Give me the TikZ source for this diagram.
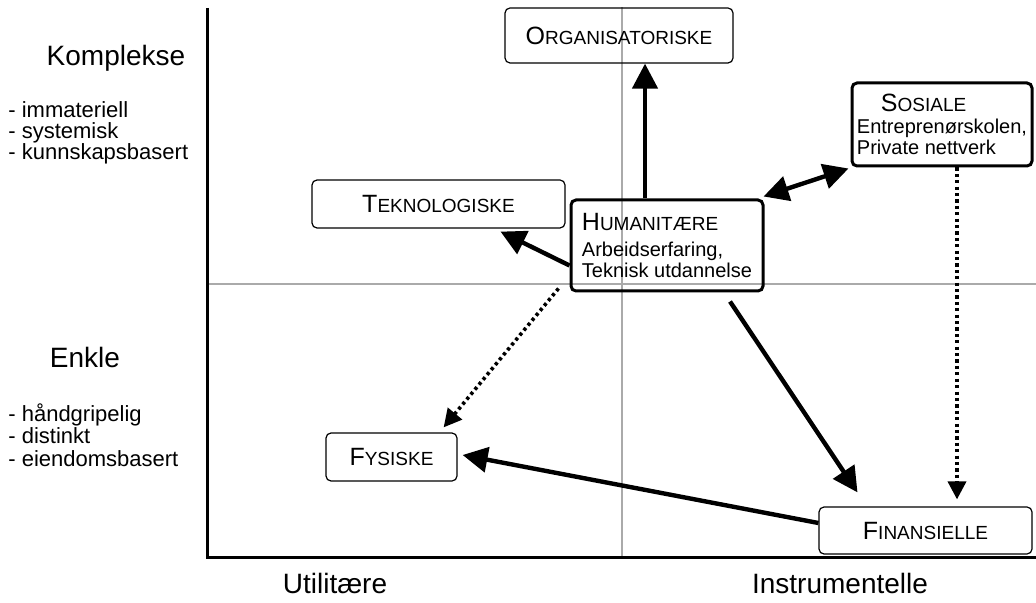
\documentclass[tikz,border=0pt]{standalone}
\usepackage{fontspec}
\setmainfont{Liberation Sans}
\usepackage{xcolor}
\usetikzlibrary{calc,arrows.meta,positioning}
\definecolor{capGray}{RGB}{170,170,170}
\newcommand{\kap}[2]{{\fontsize{12.5}{14}\selectfont #1}{\fontsize{9.5}{11}\selectfont #2}}
\tikzset{
    capbox/.style={draw, rounded corners=2.5pt, line width=0.6pt, inner sep=0pt},
    keybox/.style={capbox, line width=1.5pt},
    bigarrow/.style={line width=2.2pt, -{Triangle[length=12.5pt,width=12.5pt]}},
    dotarrow/.style={line width=1.8pt, dash pattern=on 1.6pt off 1.6pt, -{Triangle[length=9pt,width=9pt]}},
    axislabel/.style={font=\fontsize{14}{16}\selectfont},
    listlabel/.style={font=\fontsize{11}{11}\selectfont, align=left, anchor=north west, inner sep=0pt}
}

\begin{document}
\begin{tikzpicture}[x=0.5pt,y=-0.5pt]
    \useasboundingbox (0,0) rectangle (1036,603);
    % axes and quadrants
    \coordinate (origin) at (207,557);
    \coordinate (ytop) at (207,8);
    \coordinate (xend) at (1036,557);
    \draw[capGray, line width=0.6pt] (622,7) -- (622,557);
    \draw[capGray, line width=0.6pt] (207,284) -- (1036,284);
    \draw[line width=1.5pt] (ytop) -- (origin) -- (xend);

    % left-hand labels
    \node[axislabel] (kompl) at (116,58) {Komplekse};
    \node[listlabel] (komplist) at (8,101) {- immateriell\\[-0.4pt] - systemisk\\[-0.4pt] - kunnskapsbasert};
    \node[axislabel] (enkle) at (85,357) {Enkle};
    \node[listlabel] (enklelist) at (8,403) {- håndgripelig\\[0.3pt] - distinkt\\[0.3pt] - eiendomsbasert};
    \node[axislabel] (util) at (335,583) {Utilitære};
    \node[axislabel] (instr) at (840,583) {Instrumentelle};

    % capital forms
    \node[capbox, minimum width=114pt, minimum height=27.5pt] (org) at (619,35.5) {\kap{O}{RGANISATORISKE}};
    \node[capbox, minimum width=126.5pt, minimum height=24pt] (tek) at (438.5,204) {\kap{T}{EKNOLOGISKE}};
    \node[keybox, minimum width=96pt, minimum height=45.5pt, align=left, font=\fontsize{10}{10}\selectfont] (hum) at (667,245.5)
        {\kap{H}{UMANITÆRE}\\[3pt] Arbeidserfaring,\\[0.5pt] Teknisk utdannelse};
    \node[keybox, minimum width=90pt, minimum height=41.5pt, align=left, font=\fontsize{10}{10}\selectfont] (sos) at (942,124.5)
        {\hspace*{12pt}\kap{S}{OSIALE}\\[1pt] Entreprenørskolen,\\[0.5pt] Private nettverk};
    \node[capbox, minimum width=65.5pt, minimum height=24pt] (fys) at (391.5,457) {\kap{F}{YSISKE}};
    \node[capbox, minimum width=106.5pt, minimum height=23.5pt] (fin) at (925.5,530.5) {\kap{F}{INANSIELLE}};

    % flows between forms
    \draw[bigarrow] ([xshift=-11pt]hum.north) -- ([xshift=-11pt]hum.north |- org.south);
    \draw[bigarrow] ([yshift=-10pt]hum.west) -- ([xshift=31pt,yshift=-1.5pt]tek.south);
    \draw[bigarrow, {Triangle[length=12.5pt,width=12.5pt]}-{Triangle[length=12.5pt,width=12.5pt]}] ([xshift=-0.5pt,yshift=1pt]hum.north east) -- ([xshift=-1pt,yshift=-0.5pt]sos.south west);
    \draw[bigarrow] ([xshift=31.5pt,yshift=-4.5pt]hum.south) -- ([xshift=-34pt,yshift=7pt]fin.north);
    \draw[bigarrow] ([yshift=3.75pt]fin.west) -- ([xshift=2.5pt,yshift=1pt]fys.east);
    \draw[dotarrow] ([xshift=-5.5pt,yshift=2pt]hum.south west) -- ([xshift=-7pt,yshift=2.5pt]fys.north east);
    \draw[dotarrow] ([xshift=7.5pt]sos.south) -- ([xshift=7.5pt,yshift=3.5pt]sos.south |- fin.north);
\end{tikzpicture}
\end{document}
